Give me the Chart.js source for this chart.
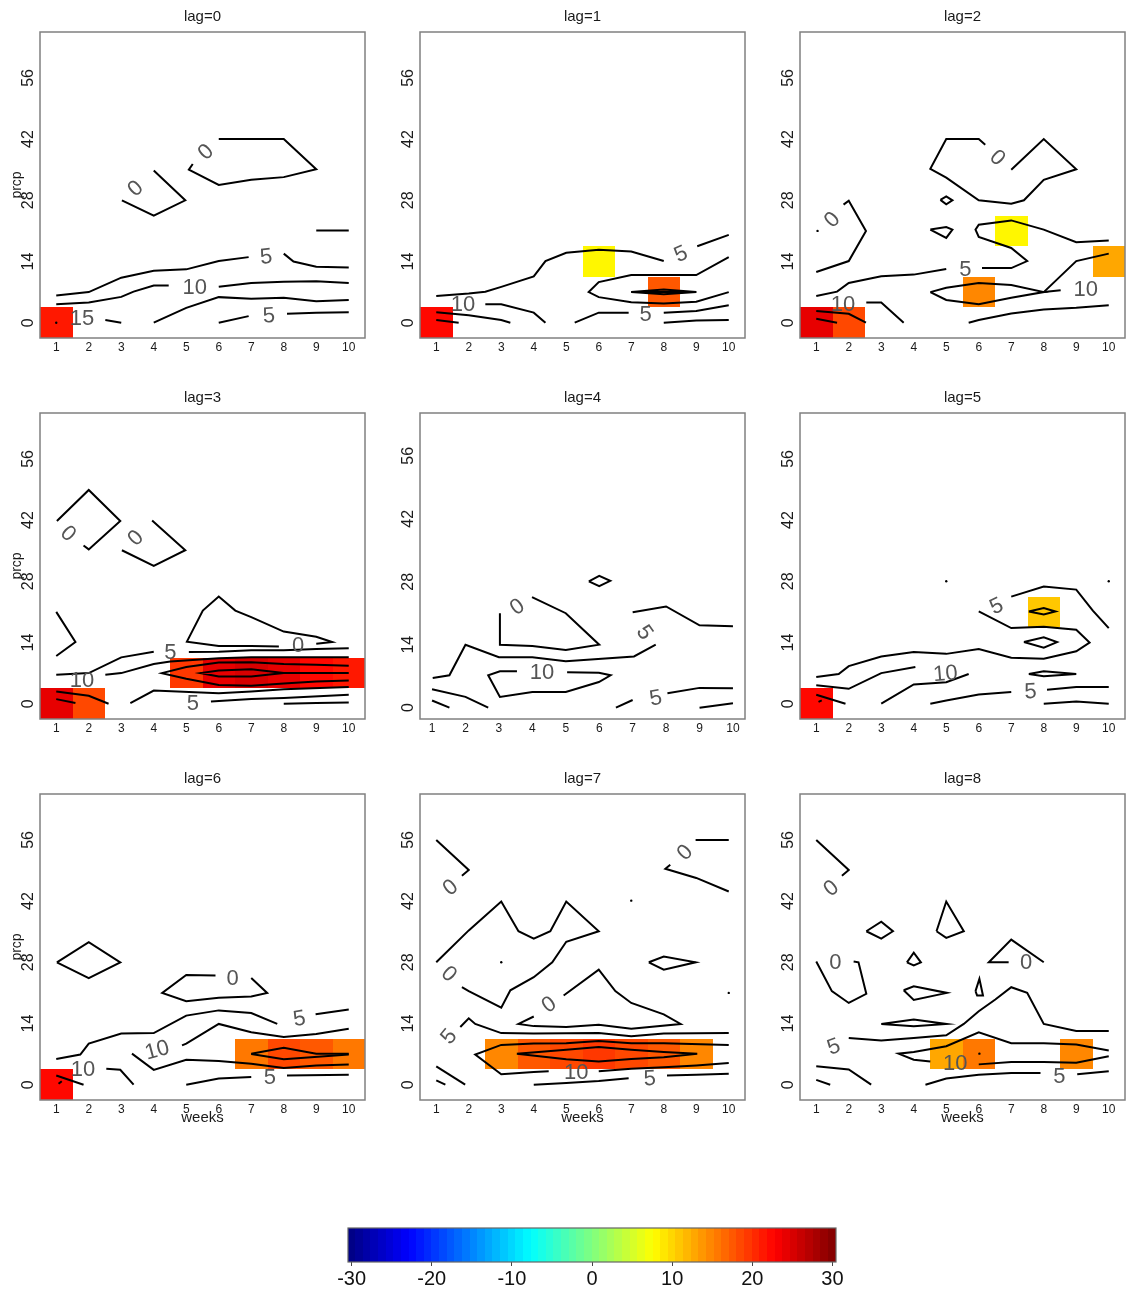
<!DOCTYPE html>
<html>
<head>
<meta charset="utf-8">
<script src="https://cdn.jsdelivr.net/npm/chart.js@4.4.1/dist/chart.umd.min.js"></script>
<style>
  html, body { margin: 0; padding: 0; background: #fff; }
  #page { position: relative; width: 1126px; height: 1289px; overflow: hidden; }
  #page canvas { position: absolute; }
</style>
</head>
<body>
<div id="page"></div>
<script>
// axes
const weekTicks = [1, 2, 3, 4, 5, 6, 7, 8, 9, 10];
const prcpTicks = [0, 14, 28, 42, 56];
const colorTicks = [-30, -20, -10, 0, 10, 20, 30];
const weekStep = 1;
const prcpStep = 7;
const colorMin = -30;
const colorMax = 30;
const nColors = 64;

// contour lines [week, prcp], labels [week, prcp, text, angle], cells [week, prcp, value]
const lines_lag0 = [
  [[6,42],[8,42],[9,35.1],[8,33.3],[7,32.7],[6,31.5],[5.08,35],[5.2,36.3]],
  [[4,34.8],[4.97,28],[4,24.5],[3.02,28]],
  [[9,21.1],[10,21.1]],
  [[1,6.2],[2,7],[3,10.3],[4,11.9],[5,12.2],[6,14.1],[6.92,15]],
  [[8,15.8],[8.3,14],[9,12.8],[10,12.6]],
  [[1,4.2],[2,4.6],[3,5.9],[3.38,7.1],[4,8.5],[4.46,8.5]],
  [[6,8.2],[7,9.1],[8,9.35],[9,9.5],[10,9.1]],
  [[4,0],[5,3.4],[6,5.85],[7,5.5],[8,5.7],[9,4.9],[10,5.2]],
  [[2.51,0.6],[3,0]],
  [[6,0],[6.92,1.5]],
  [[8.1,2.05],[9,2.3],[10,2.4]]
];
const labels_lag0 = [[5.59,39.1,'0',-44],[3.43,30.8,'0',-43],[7.46,15.2,'5',-6],[5.26,8.2,'10',0],[1.79,1.1,'15',0],[7.54,1.7,'5',-4]];
const dots_lag0 = [[1,0]];
const cells_lag0 = [[1,0,21.5]];

const lines_lag1 = [
  [[1,6.1],[2,6.7],[2.51,7.1],[3,8.2],[4,10.6],[4.36,14.1],[5,16],[6,16.7],[7,16.3],[8,14.1]],
  [[9.03,17.5],[10,20.1]],
  [[10,15],[9,10.9],[7,10.9],[6,9.3],[5.69,7],[6,5.85],[7,4.7],[8,4.4],[9,4.8],[10,7]],
  [[7,7],[8,7.6],[9,7],[8,6.5],[7,7]],
  [[7,7],[9,7]],
  [[2.51,4.2],[3,4.2],[4,2.3],[4.36,0]],
  [[1,2.4],[2,1.7],[3,0.6],[3.28,0]],
  [[1,0.6],[1.69,0]],
  [[5.26,0],[6,2.3],[6.92,2.3]],
  [[8,2.3],[9,2.7],[10,4]],
  [[8,0],[9,0.5],[10,0.6]]
];
const labels_lag1 = [[8.52,15.8,'5',-24],[1.82,4.2,'10',0],[7.44,1.9,'5',0]];
const dots_lag1 = [];
const cells_lag1 = [[1,0,22],[6,14,8],[8,7,17]];

const lines_lag2 = [
  [[6.2,40.7],[6,42],[5,42],[4.51,35.2],[5,33.2],[6,28],[7,27.2],[7.39,28],[8,32.7],[9,35.1],[8,42],[7,35]],
  [[4.82,28.1],[5,28.9],[5.19,28],[5,27.1],[4.82,28.1]],
  [[4.51,21.3],[5,21.9],[5.19,21.3],[5,19.4],[4.51,21.3]],
  [[1.84,27],[2,27.9],[2.53,21],[2,14.1],[1,11.6]],
  [[10,18.8],[9,18.4],[8,21.3],[7,23.4],[6,22.4],[5.9,21.3],[6,19.6],[7,17.1],[7.49,14.1],[7,12.5],[6.1,12.5]],
  [[5,12.3],[4,11],[3,10.6],[2,9.1],[1.64,7.1],[1,6.1]],
  [[4.51,7],[5,8],[6,9.1],[7,8.6],[8,7],[7,5.7],[6,4.2],[5,5.2],[4.51,7]],
  [[8,7],[9,14.1],[10,15.8]],
  [[8,7],[8.52,7.4]],
  [[2.54,4.6],[3,4.6],[3.69,0]],
  [[1,2.7],[2,2.05],[2.53,0]],
  [[1,0.9],[1.64,0]],
  [[5.69,0],[6,0.6],[7,2.1],[8,3],[9,3.4],[10,4]]
];
const labels_lag2 = [[6.59,37.8,'0',44],[1.48,23.6,'0',-45],[5.59,12.3,'5',0],[9.29,7.75,'10',0],[1.82,4.4,'10',0]];
const dots_lag2 = [[1.04,21]];
const cells_lag2 = [[1,0,23.8],[2,0,18.5],[6,7,14.3],[7,21,8],[10,14,13]];

const lines_lag3 = [
  [[1.02,41.8],[2,48.9],[2.97,41.8],[2,35.3],[1.84,36.2]],
  [[3.95,41.9],[4.97,35.1],[4,31.5],[3.02,35.1]],
  [[1,21],[1.59,14.1],[1,10.9]],
  [[9,13.7],[9.49,14.1],[9,15.3],[8,16.5],[7,19.8],[6.51,21.3],[6,24.5],[5.51,21.3],[5.02,14.2],[6,13.2],[7,13.2],[7.85,13.1]],
  [[1,6.6],[2,7],[3,10.6],[4,11.9]],
  [[5.08,11.8],[6,11.9],[7,12.2],[8,12.2],[9,12.5],[10,12.7]],
  [[2.51,6.6],[3,7],[4,9.1],[4.51,9.65],[6,10.4],[7,10.6],[8,10.6],[10,10.6]],
  [[10,8.7],[9,8.9],[8,9.1],[7,9.5],[6,9.4],[5,8.4],[4.25,7],[5,5.7],[6,4.3],[7,4.1],[8,4.6],[9,5.1],[10,5.3]],
  [[10,7],[8,7],[7,7.9],[6,7.6],[5.44,7],[6,6.2],[7,6.2],[8,7]],
  [[3.28,0.15],[4,3],[6,2.4],[7,2.8],[8,3.3],[10,3.8]],
  [[5.76,0.5],[7,1.06],[8,1.3],[10,2.05]],
  [[8,0],[9,0.15],[10,0.3]],
  [[1,2.8],[2,1.8],[2.61,0]],
  [[1,1.05],[1.59,0.15]]
];
const labels_lag3 = [[1.38,39,'0',43],[3.43,38,'0',-45],[8.44,13.4,'0',0],[4.51,11.8,'5',0],[1.79,5.5,'10',0],[5.2,0.15,'5',0]];
const dots_lag3 = [];
const cells_lag3 = [[1,0,24],[2,0,18],[5,7,18.8],[6,7,23.5],[7,7,24.5],[8,7,23.5],[9,7,22],[10,7,21]];

const lines_lag4 = [
  [[5.69,28.1],[6,29.3],[6.33,28.2],[6,27],[5.69,28.1]],
  [[3.99,24.6],[5,21],[6,14],[5,12.8],[4,13.7],[3.03,14],[3.03,21]],
  [[7,21.2],[8,22.5],[9,18.3],[10,18.1]],
  [[7.69,14],[7.04,11.4],[5,10.3],[4,11.2],[3,11.2],[2,14],[1.52,7.2],[1.02,6.6]],
  [[3.54,8.1],[3.03,8.1],[2.68,7.2],[3.03,2.4],[4,3.5],[5,3.5],[5.99,5.7],[6.34,7.2],[5.99,7.75],[5.04,7.9]],
  [[1,4.1],[2,2.4],[2.68,0]],
  [[1,1.6],[1.52,0]],
  [[6.5,0],[7,1.7]],
  [[8.04,3.2],[9,4.4],[10,4.3]],
  [[9,0],[10,1]]
];
const labels_lag4 = [[3.54,22.5,'0',-35],[7.37,16.8,'5',55],[4.29,7.9,'10',0],[7.69,2.2,'5',-11]];
const dots_lag4 = [];
const cells_lag4 = [];

const lines_lag5 = [
  [[7,24.5],[8,26.8],[9,26.1],[9.51,21.3],[10,17.3]],
  [[6,21.1],[7,17.3],[8,17.6],[9,16.9],[9.41,14],[9,12],[8,10.3],[7,10.5],[6,12.5],[5,11.4],[4,11.8],[3,10.8],[2,8.6],[1.69,6.8],[1,6.1]],
  [[7.54,21.1],[8,21.9],[8.36,21.1],[8,20.4],[7.54,21.1]],
  [[7.39,14.1],[8,15.2],[8.41,14.1],[8,12.8],[7.39,14.1]],
  [[7.54,6.8],[8,7.4],[9,6.8],[8,6.3],[7.54,6.8]],
  [[1,4.2],[2,3.4],[3,7],[4.05,8.4]],
  [[3,0],[4,4.4],[5,4.9],[5.69,6.8]],
  [[4.51,0],[5,0.75],[6,2.1],[7,2.65]],
  [[8.1,3.2],[9,3.8],[10,3.8]],
  [[8,0],[9,0.5],[10,0]],
  [[1,2.05],[1.9,0]],
  [[1.07,0.4],[1.17,0.75]]
];
const labels_lag5 = [[6.54,22.4,'5',-25],[4.97,7,'10',-5],[7.59,2.9,'5',-3]];
const dots_lag5 = [[5,28],[10,28]];
const cells_lag5 = [[1,0,22],[8,21,11]];

const lines_lag6 = [
  [[1.02,28],[2,32.6],[2.97,28],[2,24.4],[1.02,28]],
  [[5.9,25],[5,25.1],[4.26,21],[5,19.1],[6,19.9],[7,20.2],[7.49,21],[7,24.4]],
  [[1,5.9],[1.74,6.9],[2,9.4],[3,11.7],[4,11.8],[5,15.8],[6,17],[7,16.4],[7.8,13.9]],
  [[8.98,16.1],[10,17.2]],
  [[4.87,9],[5,9.4],[6,13.9],[7,12],[8,10.9],[9,11.6],[10,12.8]],
  [[3.33,7.1],[4,3.4],[5,5.7],[6,5.4],[7,4.8],[8,3.8],[9,4.4],[10,4.6]],
  [[7,7.1],[8,8.45],[9,7.1],[10,7.1]],
  [[7,7],[8,5.8],[10,6.9]],
  [[2.54,3.65],[2.97,3.4],[3.38,0]],
  [[1,2.1],[1.84,0]],
  [[1.07,0.2],[1.17,0.8]],
  [[5,0],[6,1.4],[7,1.75]],
  [[8.1,2.1],[10,2.3]]
];
const labels_lag6 = [[6.43,24.4,'0',0],[8.48,15.2,'5',-10],[4.1,8,'10',-15],[1.82,3.65,'10',0],[7.57,1.75,'5',0]];
const dots_lag6 = [];
const cells_lag6 = [[1,0,22],[7,7,15],[8,7,18],[9,7,17],[10,7,15]];

const lines_lag7 = [
  [[1,56],[2,49.1],[1.79,47.8]],
  [[8.98,56],[10,56]],
  [[8.2,50.3],[8.05,49.4],[9,47.3],[10,44.2]],
  [[1,28],[2,35.3],[3,41.9],[3.53,35.1],[4,33.4],[4.51,35.1],[5,41.9],[6,35.1],[5,32.7],[4.57,28],[4,24.6],[3.28,21.6],[3,17.6],[2,21.4],[1.79,22.3]],
  [[7.54,28],[8,29.3],[8.98,28],[8,26.3],[7.54,28]],
  [[4.92,20.4],[6,26.3],[6.51,21.4],[7,18.7],[8,16.1],[8.52,13.9],[7,12.8],[6,13.7],[5,13.2],[4,13.4],[3.53,13.9],[4,15.6]],
  [[1.74,13.2],[2,15.2],[2.2,13.9],[3,11.8],[4,11.7],[6,11.8],[7,11.1],[8,11.7],[10,11.8]],
  [[10,9.1],[8,9.5],[7,9.5],[6,10],[5,9.5],[4,9.4],[3,9.1],[2.2,6.9],[3,2.4],[4,2.9],[4.46,3.05]],
  [[6,3.05],[7,3.65],[8,4],[9,4.4],[10,4.95]],
  [[3.48,7.1],[5,8],[6,8.6],[7,8],[8,7.5],[9.03,7.1],[8,6.3],[7,5.9],[6,5.3],[5,5.8],[3.48,7.1]],
  [[4,0],[5,0.4],[6,0.85],[6.92,1.5]],
  [[8.1,2.1],[9,2.3],[10,2.5]],
  [[1,4.2],[1.89,0]],
  [[1,1],[1.28,0]]
];
const labels_lag7 = [[1.43,45.2,'0',-40],[8.64,53.2,'0',-45],[1.4,25.4,'0',44],[4.46,18.4,'0',-35],[1.38,11.1,'5',-50],[5.31,2.9,'10',0],[7.57,1.5,'5',-3]];
const dots_lag7 = [[7,42.1],[3,28],[10,21]];
const cells_lag7 = [[3,7,14.5],[4,7,17],[5,7,18],[6,7,19.5],[7,7,18],[8,7,17],[9,7,14.5]];

const lines_lag8 = [
  [[1,56],[2,49.1],[1.79,47.8]],
  [[2.54,35.1],[3,37.3],[3.36,35.1],[3,33.4],[2.54,35.1]],
  [[4.7,35.1],[5,41.9],[5.54,35.1],[5,33.6],[4.7,35.1]],
  [[1,28.2],[1.48,21.4],[2,18.7],[2.54,20.8],[2.3,28],[2.15,28.2]],
  [[3.79,28],[4,30.2],[4.22,28],[4,27.3],[3.79,28]],
  [[3.69,21.6],[4,22.5],[5.02,21],[4,19.4],[3.69,21.6]],
  [[5.9,21.4],[6.02,24.2],[6.13,20.4],[5.95,20.4],[5.9,21.4]],
  [[6.92,28],[6.31,28],[7,33.2],[8,28]],
  [[10,12.3],[9,12.3],[8,13.9],[7.49,21],[7,22.3],[6.51,19.5],[6,16.8],[5.54,13.9],[5,11.3],[4,10.7],[3,10.1],[2,10.7]],
  [[3,13.9],[4,14.9],[5,13.9],[4,13.4],[3,13.9]],
  [[10,7.8],[9,9.2],[8,9.5],[7,9.5],[6,12],[5,8.8],[4,7.5],[3.53,7.1],[4,5.7],[4.51,5.3]],
  [[6,4.65],[7,5.2],[8,5.2],[9,5],[10,6.5]],
  [[1,4.2],[2,3.5],[2.69,0]],
  [[1,1.1],[1.43,0]],
  [[4.36,0],[5,1.4],[6,2.3],[7,2.7],[7.9,2.7]],
  [[9.03,2.4],[10,3.1]]
];
const labels_lag8 = [[1.45,45,'0',-40],[1.59,28,'0',0],[7.46,28,'0',0],[1.53,8.8,'5',-20],[5.28,5,'10',0],[8.48,2.1,'5',0]];
const dots_lag8 = [[6.02,7.1]];
const cells_lag8 = [[5,7,13],[6,7,15],[9,7,14.5]];

// panels with image cells use the cell extent, contour-only panels the 4% padded range
const xLimImage = [0.5, 10.5];
const yLimImage = [-3.5, 66.5];
const xLimContour = [0.64, 10.36];
const yLimContour = [-2.52, 65.52];

const panels = [
  { lag: 0, lines: lines_lag0, labels: labels_lag0, dots: dots_lag0, cells: cells_lag0 },
  { lag: 1, lines: lines_lag1, labels: labels_lag1, dots: dots_lag1, cells: cells_lag1 },
  { lag: 2, lines: lines_lag2, labels: labels_lag2, dots: dots_lag2, cells: cells_lag2 },
  { lag: 3, lines: lines_lag3, labels: labels_lag3, dots: dots_lag3, cells: cells_lag3 },
  { lag: 4, lines: lines_lag4, labels: labels_lag4, dots: dots_lag4, cells: cells_lag4 },
  { lag: 5, lines: lines_lag5, labels: labels_lag5, dots: dots_lag5, cells: cells_lag5 },
  { lag: 6, lines: lines_lag6, labels: labels_lag6, dots: dots_lag6, cells: cells_lag6 },
  { lag: 7, lines: lines_lag7, labels: labels_lag7, dots: dots_lag7, cells: cells_lag7 },
  { lag: 8, lines: lines_lag8, labels: labels_lag8, dots: dots_lag8, cells: cells_lag8 }
];

const colLeft = [0, 380, 760];
const rowTop = [0, 381, 762];

Chart.defaults.font.family = "'Liberation Sans', Arial, Helvetica, sans-serif";
Chart.defaults.color = '#1a1a1a';

// jet-like palette, 64 steps
function jet(v) {
  const t = Math.min(1, Math.max(0, (v - colorMin) / (colorMax - colorMin)));
  const k = Math.min(nColors - 1, Math.floor(t * nColors));
  const s = (k + 0.5) / nColors;
  const f = c => Math.round(255 * Math.min(1, Math.max(0, 1.5 - Math.abs(4 * s - c))));
  return `rgb(${f(3)},${f(2)},${f(1)})`;
}

// keep the plot box fixed, whatever the tick labels want
function noPad(s) {
  s.paddingLeft = 0;
  s.paddingRight = 0;
  s.paddingTop = 0;
  s.paddingBottom = 0;
}

function panelDecor(p) {
  return {
    id: 'panelDecor',
    beforeDatasetsDraw(chart) {
      const { ctx, scales: { x, y } } = chart;
      ctx.save();
      p.cells.forEach(([w, r, v]) => {
        const x0 = Math.round(x.getPixelForValue(w - weekStep / 2));
        const x1 = Math.round(x.getPixelForValue(w + weekStep / 2));
        const y0 = Math.round(y.getPixelForValue(r + prcpStep / 2));
        const y1 = Math.round(y.getPixelForValue(r - prcpStep / 2));
        ctx.fillStyle = jet(v);
        ctx.fillRect(x0, y0, x1 - x0, y1 - y0);
      });
      ctx.restore();
    },
    afterDatasetsDraw(chart) {
      const { ctx, chartArea: a, scales: { x, y } } = chart;
      ctx.save();
      ctx.fillStyle = '#555';
      ctx.font = "22px 'Liberation Sans', Arial, sans-serif";
      ctx.textAlign = 'center';
      ctx.textBaseline = 'middle';
      p.labels.forEach(([w, r, txt, ang]) => {
        ctx.save();
        ctx.translate(x.getPixelForValue(w), y.getPixelForValue(r));
        ctx.rotate(ang * Math.PI / 180);
        ctx.fillText(txt, 0, 1);
        ctx.restore();
      });
      ctx.strokeStyle = '#808080';
      ctx.lineWidth = 1.5;
      ctx.strokeRect(a.left, a.top, a.right - a.left, a.bottom - a.top);
      ctx.restore();
    }
  };
}

const page = document.getElementById('page');

panels.forEach((p, i) => {
  const col = i % 3;
  const row = Math.floor(i / 3);
  const bottomRow = row === 2;
  const canvas = document.createElement('canvas');
  canvas.width = 366;
  canvas.height = bottomRow ? 383 : 360;
  canvas.style.left = colLeft[col] + 'px';
  canvas.style.top = rowTop[row] + 'px';
  page.appendChild(canvas);

  const hasCells = p.cells.length > 0;
  const xLim = hasCells ? xLimImage : xLimContour;
  const yLim = hasCells ? yLimImage : yLimContour;

  const datasets = p.lines.map(line => ({
    data: line.map(([x, y]) => ({ x, y })),
    showLine: true,
    borderColor: '#000',
    borderWidth: 2,
    pointRadius: 0,
    tension: 0
  }));
  datasets.push({
    data: p.dots.map(([x, y]) => ({ x, y })),
    showLine: false,
    pointRadius: 1.2,
    backgroundColor: '#000',
    borderWidth: 0
  });

  new Chart(canvas, {
    type: 'scatter',
    data: { datasets },
    options: {
      responsive: false,
      animation: false,
      events: [],
      layout: { autoPadding: false, padding: { right: 1 } },
      plugins: {
        legend: { display: false },
        tooltip: { enabled: false },
        title: {
          display: true,
          text: 'lag=' + p.lag,
          fullSize: false,
          color: '#1a1a1a',
          font: { size: 15, weight: 'normal', lineHeight: 1.2 },
          padding: { top: 8, bottom: 6 }
        }
      },
      scales: {
        x: {
          type: 'linear',
          min: xLim[0],
          max: xLim[1],
          afterBuildTicks: s => { s.ticks = weekTicks.map(v => ({ value: v })); },
          afterFit: s => { s.height = bottomRow ? 45 : 22; noPad(s); },
          grid: { display: false, drawTicks: false },
          border: { display: false },
          ticks: { autoSkip: false, maxRotation: 0, padding: 2, font: { size: 12 } },
          title: {
            display: bottomRow,
            text: 'weeks',
            font: { size: 15 },
            padding: { top: 0, bottom: 18 }
          }
        },
        y: {
          type: 'linear',
          min: yLim[0],
          max: yLim[1],
          afterBuildTicks: s => { s.ticks = prcpTicks.map(v => ({ value: v })); },
          afterFit: s => { s.width = 40; noPad(s); },
          grid: { display: false, drawTicks: false },
          border: { display: false },
          ticks: { minRotation: 90, maxRotation: 90, crossAlign: 'center', padding: 3, font: { size: 16 } },
          title: {
            display: col === 0,
            text: 'prcp',
            font: { size: 14 },
            padding: { top: 9, bottom: 0 }
          }
        }
      }
    },
    plugins: [panelDecor(p)]
  });
});

// colour bar
const colorbarPlugin = {
  id: 'colorbar',
  beforeDatasetsDraw(chart) {
    const { ctx, chartArea: a, scales: { x } } = chart;
    ctx.save();
    const step = (x.max - x.min) / nColors;
    for (let k = 0; k < nColors; k++) {
      const v0 = x.min + k * step;
      const x0 = Math.floor(x.getPixelForValue(v0));
      const x1 = Math.ceil(x.getPixelForValue(v0 + step));
      ctx.fillStyle = jet(colorMin + (k + 0.5) * (colorMax - colorMin) / nColors);
      ctx.fillRect(x0, a.top, x1 - x0, a.bottom - a.top);
    }
    ctx.strokeStyle = '#666';
    ctx.lineWidth = 1.2;
    ctx.strokeRect(a.left, a.top, a.right - a.left, a.bottom - a.top);
    ctx.restore();
  }
};

const cb = document.createElement('canvas');
cb.width = 600;
cb.height = 89;
cb.style.left = '300px';
cb.style.top = '1200px';
page.appendChild(cb);

new Chart(cb, {
  type: 'scatter',
  data: { datasets: [] },
  options: {
    responsive: false,
    animation: false,
    events: [],
    layout: { autoPadding: false, padding: { left: 48, right: 64, top: 28 } },
    plugins: { legend: { display: false }, tooltip: { enabled: false } },
    scales: {
      x: {
        type: 'linear',
        min: -30.45,
        max: 30.45,
        afterBuildTicks: s => { s.ticks = colorTicks.map(v => ({ value: v })); },
        afterFit: s => { s.height = 27; noPad(s); },
        grid: { display: true, drawOnChartArea: false, drawTicks: true, tickLength: 4, color: '#444' },
        border: { display: false },
        ticks: { autoSkip: false, maxRotation: 0, padding: 1, font: { size: 20 }, color: '#111' }
      },
      y: { display: false, min: 0, max: 1 }
    }
  },
  plugins: [colorbarPlugin]
});
</script>
</body>
</html>
